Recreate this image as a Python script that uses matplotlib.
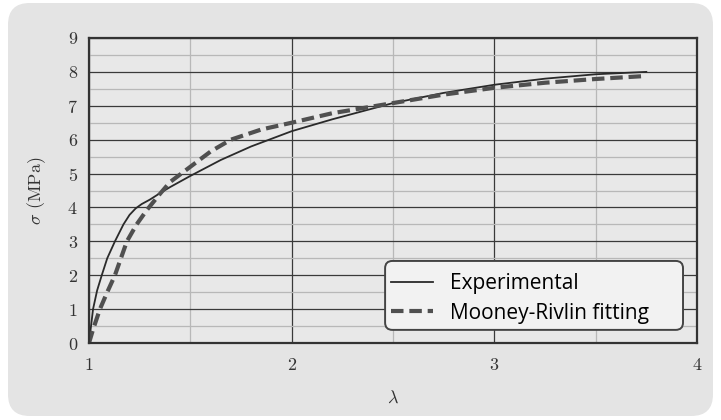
import numpy as np
import matplotlib.pyplot as plt
from matplotlib.patches import FancyBboxPatch
from matplotlib.ticker import MultipleLocator

# data (lambda, sigma in MPa)
lam_exp = [1.0, 1.02, 1.04, 1.063, 1.09, 1.128, 1.17, 1.2, 1.23, 1.26, 1.3, 1.35,
           1.4, 1.5, 1.65, 1.8, 2.0, 2.2, 2.5, 2.75, 3.0, 3.25, 3.5, 3.75]
sig_exp = [0.0, 1.0, 1.55, 2.0, 2.5, 3.0, 3.5, 3.78, 3.97, 4.1, 4.23, 4.42,
           4.6, 4.93, 5.4, 5.8, 6.25, 6.6, 7.08, 7.38, 7.62, 7.8, 7.93, 8.0]

lam_mr = [1.0, 1.02, 1.054, 1.09, 1.128, 1.187, 1.235, 1.285, 1.35, 1.4, 1.5, 1.6,
          1.7, 1.85, 2.0, 2.2, 2.5, 2.75, 3.0, 3.25, 3.5, 3.75]
sig_mr = [0.0, 0.4, 1.0, 1.5, 2.0, 3.0, 3.5, 3.92, 4.4, 4.75, 5.2, 5.65,
          6.0, 6.3, 6.5, 6.78, 7.08, 7.33, 7.53, 7.68, 7.79, 7.88]

plt.rcParams['mathtext.fontset'] = 'cm'
plt.rcParams['font.family'] = 'serif'
plt.rcParams['font.serif'] = ['cmr10', 'DejaVu Serif']
plt.rcParams['axes.formatter.use_mathtext'] = True

fig = plt.figure(figsize=(7.21, 4.20), dpi=100)
fig.patch.set_facecolor('white')
bg = FancyBboxPatch((8 / 721, 4 / 420), 705 / 721, 413 / 420,
                    boxstyle='round,pad=0,rounding_size=0.03',
                    transform=fig.transFigure, facecolor='#e4e4e4',
                    edgecolor='none', zorder=-10, mutation_aspect=721 / 420)
fig.patches.append(bg)

ax = fig.add_axes([89 / 721, 77 / 420, 608 / 721, 305 / 420])
ax.set_facecolor('#e8e8e8')

ax.plot(lam_exp, sig_exp, color='#2a2a2a', lw=1.3, label='Experimental')
ax.plot(lam_mr, sig_mr, color='#505050', lw=3.0, ls=(0, (3.0, 1.4)),
        label='Mooney-Rivlin fitting')

ax.set_xlim(1, 4)
ax.set_ylim(0, 9)
ax.xaxis.set_major_locator(MultipleLocator(1))
ax.xaxis.set_minor_locator(MultipleLocator(0.5))
ax.yaxis.set_major_locator(MultipleLocator(1))
ax.yaxis.set_minor_locator(MultipleLocator(0.5))
ax.grid(which='major', color='#3a3a3a', lw=0.9)
ax.grid(which='minor', color='#b8b8b8', lw=0.9)
ax.set_axisbelow(True)
ax.tick_params(which='both', length=0, labelsize=13, colors='#333333')
ax.tick_params(axis='x', pad=10)
ax.tick_params(axis='y', pad=8)
for s in ax.spines.values():
    s.set_color('#333333')
    s.set_linewidth(1.6)

ax.set_xlabel(r'$\lambda$', fontsize=13, labelpad=12, color='#333333')
ax.set_ylabel(r'$\sigma$ (MPa)', fontsize=13, labelpad=14, color='#333333')

# legend box is wider on the right than the entries, so draw the frame by hand
box = FancyBboxPatch((0.487, 0.043), 0.49, 0.226,
                     boxstyle='round,pad=0,rounding_size=0.012',
                     transform=ax.transAxes, facecolor='#f2f2f2',
                     edgecolor='#444444', lw=1.4, zorder=4,
                     mutation_aspect=608 / 305)
ax.add_patch(box)
leg = ax.legend(loc='upper left', bbox_to_anchor=(0.487, 0.25),
                prop={'family': 'Open Sans', 'size': 15}, frameon=False,
                handlelength=2.0, handletextpad=0.8, borderpad=0.3,
                labelspacing=0.42, borderaxespad=0.0)
leg.set_zorder(5)

fig.savefig('out.png', dpi=100)
